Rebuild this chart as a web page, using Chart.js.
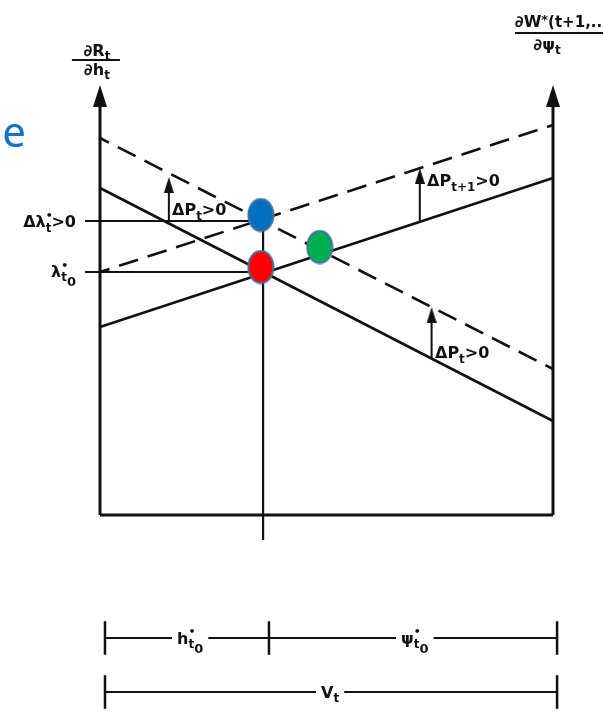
<!DOCTYPE html>
<html>
<head>
<meta charset="utf-8">
<script src="https://cdn.jsdelivr.net/npm/chart.js@4.4.0/dist/chart.umd.min.js"></script>
<style>
  html, body { margin: 0; padding: 0; background: #fff; }
</style>
</head>
<body>
<canvas id="diagram" width="603" height="714"></canvas>
<script>
// x: 0 = left axis (h side) .. 10 = right axis (psi side); y: 0 = bottom axis
const axisX = [0, 10];
const axisTop = 10.5;
const arrowTip = 10.75;

const mrH = [8.175, 2.35];          // solid, falling
const mrHShift = [9.425, 3.65];     // dashed, after dP_t > 0
const mrPsi = [4.7, 8.425];         // solid, rising
const mrPsiShift = [6.075, 9.75];   // dashed, after dP_t+1 > 0

const lambdaLevels = [6.075, 7.35]; // lambda*_t0, d-lambda*_t > 0
const lambdaLineX = [-0.33, 3.6];
const hStarX = 3.6;
const hStarY = [7.2, -0.625];

const shiftArrowX = [1.52, 7.06, 7.32];
const shiftArrowFrom = [7.35, 7.33, 3.9];
const shiftArrowTo = [8.45, 8.675, 5.2];

const dotX = [3.55, 3.55, 4.85];
const dotY = [7.5, 6.2, 6.7];
const dotFill = ['#0070c0', '#ff0000', '#00b050'];

const bracketRows = [-3.075, -4.425];
const bracketTicks = [[0.11, 3.73, 10.09], [0.11, 10.09]];

const ink = '#111';

// 🎯 point images
function arrowHead(w, h) {
    const c = document.createElement('canvas');
    c.width = w; c.height = h * 2;
    const g = c.getContext('2d');
    g.fillStyle = ink;
    g.beginPath();
    g.moveTo(w / 2, h);
    g.lineTo(w, h * 2);
    g.lineTo(0, h * 2);
    g.closePath();
    g.fill();
    return c;
}

function ellipse(fill) {
    const c = document.createElement('canvas');
    c.width = 28; c.height = 35;
    const g = c.getContext('2d');
    g.fillStyle = fill;
    g.strokeStyle = '#41719c';
    g.lineWidth = 2;
    g.beginPath();
    g.ellipse(14, 17.5, 12.5, 16, 0, 0, Math.PI * 2);
    g.fill();
    g.stroke();
    return c;
}

const bigHead = arrowHead(14, 22);
const smallHead = arrowHead(10, 16);

function seg(x0, y0, x1, y1, extra) {
    return Object.assign({
        data: [{ x: x0, y: y0 }, { x: x1, y: y1 }],
        showLine: true,
        pointRadius: 0,
        borderColor: ink,
        borderWidth: 2.6,
        order: 2
    }, extra || {});
}

const datasets = [];

// dots on top
datasets.push({
    data: dotX.map((x, i) => ({ x: x, y: dotY[i] })),
    showLine: false,
    pointRadius: 14,
    pointStyle: dotFill.map(ellipse),
    order: 0
});

// axes
axisX.forEach(x => {
    datasets.push(seg(x, 0, x, axisTop, { borderWidth: 3 }));
});
datasets.push(seg(axisX[0], 0, axisX[1], 0, { borderWidth: 3 }));
datasets.push({
    data: axisX.map(x => ({ x: x, y: arrowTip })),
    showLine: false,
    pointRadius: 7,
    pointStyle: bigHead,
    order: 1
});

// curves
const dash = { borderDash: [20, 10], borderDashOffset: 10 };
datasets.push(seg(axisX[0], mrH[0], axisX[1], mrH[1]));
datasets.push(seg(axisX[0], mrHShift[0], axisX[1], mrHShift[1], dash));
datasets.push(seg(axisX[0], mrPsi[0], axisX[1], mrPsi[1]));
datasets.push(seg(axisX[0], mrPsiShift[0], axisX[1], mrPsiShift[1], dash));

// lambda levels and h* drop line
lambdaLevels.forEach(y => {
    datasets.push(seg(lambdaLineX[0], y, lambdaLineX[1], y, { borderWidth: 2.2 }));
});
datasets.push(seg(hStarX, hStarY[0], hStarX, hStarY[1], { borderWidth: 2.2 }));

// shift arrows
shiftArrowX.forEach((x, i) => {
    datasets.push(seg(x, shiftArrowFrom[i], x, shiftArrowTo[i] - 0.2, { borderWidth: 2 }));
});
datasets.push({
    data: shiftArrowX.map((x, i) => ({ x: x, y: shiftArrowTo[i] })),
    showLine: false,
    pointRadius: 5,
    pointStyle: smallHead,
    order: 1
});

// brackets at the bottom
bracketRows.forEach((y, r) => {
    const ticks = bracketTicks[r];
    datasets.push(seg(ticks[0], y, ticks[ticks.length - 1], y, { borderWidth: 2 }));
    ticks.forEach(x => {
        datasets.push(seg(x, y - 0.42, x, y + 0.42, { borderWidth: 2.5 }));
    });
});

// 🏷️ labels (parts: [text, dy, scale, advance])
const FONT = '"DejaVu Sans", "Liberation Sans", sans-serif';
const texts = [
    { x: 1.59, y: 7.51, size: 16, parts: [['ΔP'], ['t', 5, 0.75], ['>0']] },
    { x: 7.22, y: 8.225, size: 16, parts: [['ΔP'], ['t+1', 5, 0.75], ['>0']] },
    { x: 7.395, y: 3.925, size: 16, parts: [['ΔP'], ['t', 5, 0.75], ['>0']] },
    { x: -0.53, y: 7.2, size: 16, align: 'right', parts: [['Δλ'], ['•', -8, 0.7, false], ['t', 5, 0.75], ['>0']] },
    { x: -0.53, y: 5.95, size: 16, align: 'right', parts: [['λ'], ['•', -8, 0.7, false], ['t', 4, 0.75], ['0', 9, 0.8]] },
    { x: 1.99, y: -3.225, size: 16, align: 'center', bg: true, parts: [['h'], ['•', -9, 0.7, false], ['t', 4, 0.75], ['0', 9, 0.8]] },
    { x: 6.95, y: -3.225, size: 16, align: 'center', bg: true, parts: [['ψ'], ['•', -9, 0.7, false], ['t', 4, 0.75], ['0', 9, 0.8]] },
    { x: 5.08, y: -4.575, size: 16, align: 'center', bg: true, parts: [['V'], ['t', 4, 0.75]] },
    { x: -0.066, y: 11.475, size: 16, align: 'center', parts: [['∂R'], ['t', 4, 0.75]] },
    { x: -0.066, y: 11.0, size: 16, align: 'center', parts: [['∂h'], ['t', 4, 0.75]] },
    { x: 9.16, y: 12.2, size: 16, parts: [['∂W'], ['*', -3, 0.8], ['(t+1,..', 0, 0.95]] },
    { x: 9.87, y: 11.625, size: 16, align: 'center', parts: [['∂ψ'], ['t', 4, 0.75]] }
];
const fractionBars = [
    { x0: -0.62, x1: 0.44, y: 11.375 },
    { x0: 9.16, x1: 11.2, y: 12.05 }
];

function drawRich(ctx, x, y, t) {
    const size = t.size;
    let w = 0;
    t.parts.forEach(p => {
        ctx.font = 'bold ' + Math.round(size * (p[2] || 1)) + 'px ' + FONT;
        if (p[3] !== false) w += ctx.measureText(p[0]).width;
    });
    let cx = t.align === 'right' ? x - w : t.align === 'center' ? x - w / 2 : x;
    if (t.bg) {
        ctx.fillStyle = '#fff';
        ctx.fillRect(cx - 5, y - size, w + 10, size + 12);
    }
    ctx.fillStyle = ink;
    t.parts.forEach(p => {
        ctx.font = 'bold ' + Math.round(size * (p[2] || 1)) + 'px ' + FONT;
        ctx.fillText(p[0], cx, y + (p[1] || 0));
        if (p[3] !== false) cx += ctx.measureText(p[0]).width;
    });
}

const textPlugin = {
    id: 'textPlugin',
    afterDatasetsDraw(chart) {
        const ctx = chart.ctx;
        const sx = chart.scales.x, sy = chart.scales.y;
        ctx.save();
        ctx.textBaseline = 'alphabetic';
        texts.forEach(t => drawRich(ctx, sx.getPixelForValue(t.x), sy.getPixelForValue(t.y), t));
        ctx.strokeStyle = ink;
        ctx.lineWidth = 2;
        fractionBars.forEach(b => {
            ctx.beginPath();
            ctx.moveTo(sx.getPixelForValue(b.x0), sy.getPixelForValue(b.y));
            ctx.lineTo(sx.getPixelForValue(b.x1), sy.getPixelForValue(b.y));
            ctx.stroke();
        });
        // stray slide letter
        ctx.fillStyle = '#1272c4';
        ctx.font = '42px "Noto Sans", sans-serif';
        ctx.fillText('e', sx.getPixelForValue(-2.16), sy.getPixelForValue(9.2));
        ctx.restore();
    }
};

new Chart(document.getElementById('diagram'), {
    type: 'scatter',
    data: { datasets: datasets },
    options: {
        responsive: false,
        animation: false,
        layout: { padding: 0, autoPadding: false },
        elements: { line: { tension: 0 } },
        plugins: { legend: { display: false }, tooltip: { enabled: false } },
        scales: {
            x: { type: 'linear', display: false, min: -100 / 45.3, max: 503 / 45.3 },
            y: { type: 'linear', display: false, min: -199 / 40, max: 515 / 40 }
        }
    },
    plugins: [textPlugin]
});
</script>
</body>
</html>
